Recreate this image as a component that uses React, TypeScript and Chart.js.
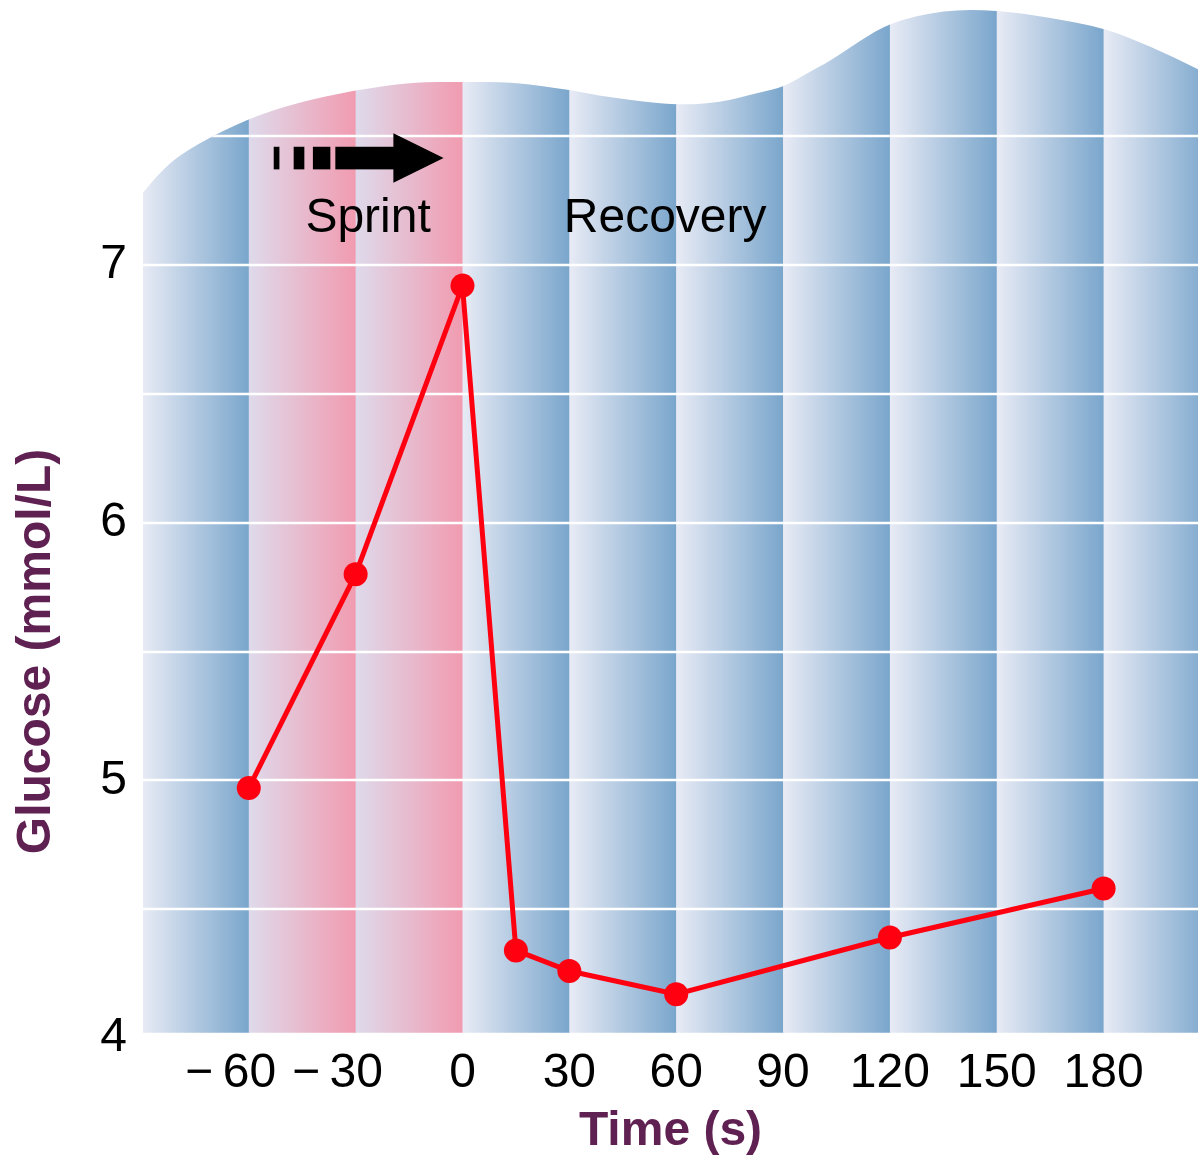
import React, { useEffect, useRef } from "react";
import { Chart, registerables } from "chart.js";

Chart.register(...registerables);

// ---- data ----
const TIME_S = [-60, -30, 0, 15, 30, 60, 120, 180];
const GLUCOSE = [4.97, 5.8, 6.92, 4.34, 4.26, 4.17, 4.39, 4.58];

const X_TICKS = [-60, -30, 0, 30, 60, 90, 120, 150, 180];
const Y_TICKS = [4, 5, 6, 7];
const GRID_VALUES = [4.5, 5, 5.5, 6, 6.5, 7, 7.5];

const X_RANGE = [-89.7, 206.5];
const Y_RANGE = [4, 7];

// background panel (vertical bands, one per 30 s)
const BAND_EDGES = [-90, -60, -30, 0, 30, 60, 90, 120, 150, 180, 210];
const SPRINT_RANGE = [-60, 0];
const PANEL_BOTTOM = 4.02;
// wavy top outline of the panel: time (s) / glucose units
const PANEL_TOP_T = [-89.7, -84, -74.5, -59.9, -46.4, -29.8, -13.8, 0, 14.2, 30, 41.4, 60, 72.3, 83.5, 90, 97.6, 102.9, 111.6, 120, 135.1, 150, 164.9, 180, 193, 206.5];
const PANEL_TOP_V = [7.28, 7.38, 7.47, 7.57, 7.63, 7.68, 7.71, 7.71, 7.71, 7.68, 7.65, 7.62, 7.63, 7.67, 7.69, 7.75, 7.79, 7.87, 7.94, 7.99, 7.99, 7.96, 7.92, 7.85, 7.76];

// annotations
const SPRINT_LABEL = { text: "Sprint", t: -26.5, v: 7.128 };
const RECOVERY_LABEL = { text: "Recovery", t: 56.9, v: 7.128 };
const ARROW_V = 7.415;
const ARROW_DASHES = [[-53.0, -51.4], [-47.4, -44.4], [-42.0, -37.1]];
const ARROW_SHAFT = [-35.7, -19.4];
const ARROW_TIP = -5.3;

const FONT_FAMILY = '"Liberation Sans", Arial, Helvetica, sans-serif';
const PURPLE = "#5f2152";
const RED = "#ff0010";

const BLUE_LIGHT = "#e8ebf5";
const BLUE_DARK = "#7aa6cc";
const PINK_LIGHT = "#dedaeb";
const PINK_DARK = "#f19bb0";

const panelPlugin = {
  id: "panelBackground",
  beforeDatasetsDraw(chart: any) {
    const { ctx, chartArea, scales } = chart;
    const xs = scales.x;
    const ys = scales.y;
    const px = (t: number) => xs.getPixelForValue(t);
    const py = (v: number) => ys.getPixelForValue(v);
    const left = chartArea.left;
    const right = chartArea.right;
    const bottom = py(PANEL_BOTTOM);

    ctx.save();
    // clip path
    const pts = PANEL_TOP_T.map((t, i) => [Math.min(Math.max(px(t), left), right), py(PANEL_TOP_V[i])]);
    ctx.beginPath();
    ctx.moveTo(left, bottom);
    ctx.lineTo(pts[0][0], pts[0][1]);
    for (let i = 1; i < pts.length - 1; i++) {
      const mx = (pts[i][0] + pts[i + 1][0]) / 2;
      const my = (pts[i][1] + pts[i + 1][1]) / 2;
      ctx.quadraticCurveTo(pts[i][0], pts[i][1], mx, my);
    }
    const last = pts[pts.length - 1];
    ctx.lineTo(last[0], last[1]);
    ctx.lineTo(right, bottom);
    ctx.closePath();
    ctx.clip();

    // bands
    for (let i = 0; i < BAND_EDGES.length - 1; i++) {
      const t0 = BAND_EDGES[i];
      const t1 = BAND_EDGES[i + 1];
      const x0 = px(t0);
      const x1 = px(t1);
      const sprint = t0 >= SPRINT_RANGE[0] && t1 <= SPRINT_RANGE[1];
      const g = ctx.createLinearGradient(x0, 0, x1, 0);
      g.addColorStop(0, sprint ? PINK_LIGHT : BLUE_LIGHT);
      g.addColorStop(1, sprint ? PINK_DARK : BLUE_DARK);
      ctx.fillStyle = g;
      ctx.fillRect(x0, 0, x1 - x0 + 0.5, bottom + 2);
    }

    // white grid lines
    ctx.strokeStyle = "#ffffff";
    ctx.lineWidth = 2.5;
    GRID_VALUES.forEach((v) => {
      const y = Math.round(py(v));
      ctx.beginPath();
      ctx.moveTo(left, y);
      ctx.lineTo(right, y);
      ctx.stroke();
    });
    ctx.restore();

    // annotations
    ctx.save();
    ctx.fillStyle = "#000";
    ctx.font = `48px ${FONT_FAMILY}`;
    ctx.textAlign = "center";
    ctx.textBaseline = "alphabetic";
    ctx.fillText(SPRINT_LABEL.text, px(SPRINT_LABEL.t), py(SPRINT_LABEL.v));
    ctx.fillText(RECOVERY_LABEL.text, px(RECOVERY_LABEL.t), py(RECOVERY_LABEL.v));

    const yc = py(ARROW_V);
    const shaftHalf = 11.3;
    const headHalf = 24.7;
    ARROW_DASHES.forEach(([a, b]) => {
      ctx.fillRect(px(a), yc - shaftHalf, px(b) - px(a), shaftHalf * 2);
    });
    ctx.fillRect(px(ARROW_SHAFT[0]), yc - shaftHalf, px(ARROW_SHAFT[1]) - px(ARROW_SHAFT[0]) + 1, shaftHalf * 2);
    ctx.beginPath();
    ctx.moveTo(px(ARROW_SHAFT[1]), yc - headHalf);
    ctx.lineTo(px(ARROW_TIP), yc);
    ctx.lineTo(px(ARROW_SHAFT[1]), yc + headHalf);
    ctx.closePath();
    ctx.fill();
    ctx.restore();
  },
};

const formatX = (v: number) =>
  v < 0 ? "\u2212\u2009" + Math.abs(v) + "\u2007\u2009" : String(v);

export default function App() {
  const canvasRef = useRef<HTMLCanvasElement | null>(null);

  useEffect(() => {
    if (!canvasRef.current) return;
    const chart = new Chart(canvasRef.current, {
      type: "line",
      data: {
        datasets: [
          {
            data: TIME_S.map((t, i) => ({ x: t, y: GLUCOSE[i] })),
            borderColor: RED,
            backgroundColor: RED,
            borderWidth: 5,
            pointRadius: 12,
            pointBackgroundColor: RED,
            pointBorderWidth: 0,
            tension: 0,
            clip: false as any,
          },
        ],
      },
      options: {
        animation: false,
        responsive: false,
        devicePixelRatio: 1,
        layout: { autoPadding: false, padding: { top: 265, left: 0, right: 0, bottom: 0 } },
        plugins: {
          legend: { display: false },
          tooltip: { enabled: false },
        },
        scales: {
          x: {
            type: "linear",
            min: X_RANGE[0],
            max: X_RANGE[1],
            grid: { display: false, drawTicks: false },
            border: { display: false },
            afterBuildTicks: (scale: any) => {
              scale.ticks = X_TICKS.map((v) => ({ value: v }));
            },
            afterFit: (scale: any) => {
              scale.height = 123;
            },
            ticks: {
              color: "#000",
              padding: 7,
              maxRotation: 0,
              autoSkip: false,
              font: { family: FONT_FAMILY, size: 48 },
              callback: (v: any) => formatX(Number(v)),
            },
            title: {
              display: true,
              text: "Time (s)",
              color: PURPLE,
              font: { family: FONT_FAMILY, size: 48, weight: "bold" },
              padding: { top: 0, bottom: 0 },
            },
          },
          y: {
            type: "linear",
            min: Y_RANGE[0],
            max: Y_RANGE[1],
            grid: { display: false, drawTicks: false },
            border: { display: false },
            afterBuildTicks: (scale: any) => {
              scale.ticks = Y_TICKS.map((v) => ({ value: v }));
            },
            afterFit: (scale: any) => {
              scale.width = 143;
            },
            ticks: {
              color: "#000",
              padding: 16,
              font: { family: FONT_FAMILY, size: 48 },
              callback: (v: any) => String(v),
            },
            title: {
              display: true,
              text: "Glucose (mmol/L)",
              color: PURPLE,
              font: { family: FONT_FAMILY, size: 48, weight: "bold" },
              padding: { top: 8, bottom: 0 },
            },
          },
        },
      } as any,
      plugins: [panelPlugin],
    });
    return () => chart.destroy();
  }, []);

  return (
    <div style={{ position: "absolute", left: 0, top: 0, width: 1198, height: 1161, background: "#fff" }}>
      <canvas ref={canvasRef} width={1198} height={1161} style={{ display: "block", width: 1198, height: 1161 }} />
    </div>
  );
}
